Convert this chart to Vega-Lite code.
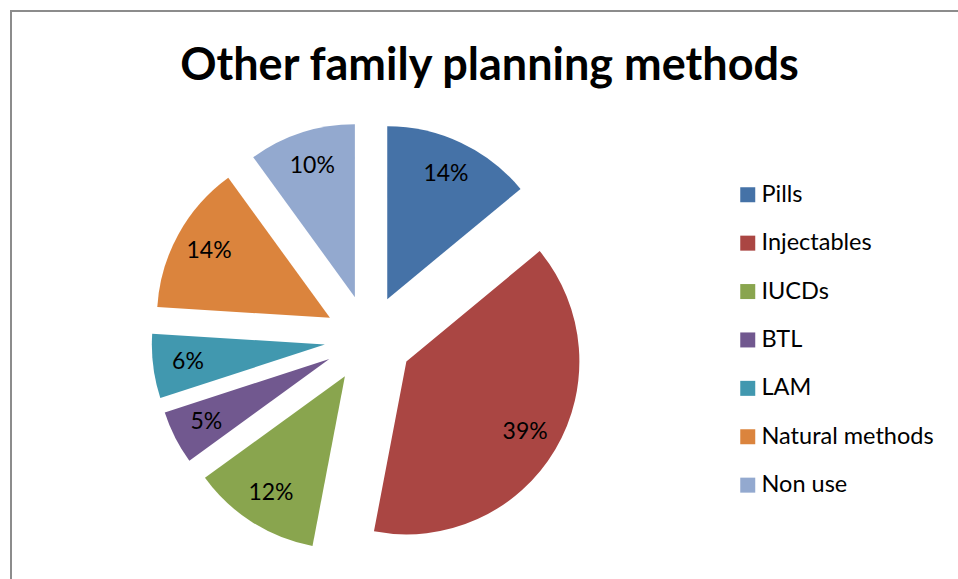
{
  "$schema": "https://vega.github.io/schema/vega-lite/v6.json",
  "padding": {"left": 10, "top": 10, "right": 0, "bottom": 0},
  "autosize": {"type": "pad"},
  "spacing": 0,
  "bounds": "flush",
  "config": {
    "font": "Lato"
  },
  "title": {
    "text": "Other family planning methods",
    "font": "Lato",
    "fontSize": 45,
    "fontWeight": "bold",
    "color": "black",
    "anchor": "middle",
    "dx": 1,
    "dy": 79,
    "offset": 0
  },
  "data": {
    "values": [
      {"method": "Pills", "share": 0.14, "k": 1},
      {"method": "Injectables", "share": 0.39, "k": 2},
      {"method": "IUCDs", "share": 0.12, "k": 3},
      {"method": "BTL", "share": 0.05, "k": 4},
      {"method": "LAM", "share": 0.06, "k": 5},
      {"method": "Natural methods", "share": 0.14, "k": 6},
      {"method": "Non use", "share": 0.10, "k": 7}
    ]
  },
  "hconcat": [
    {
      "width": 715,
      "height": 656,
      "view": {"stroke": "#8c8c8c", "strokeWidth": 2, "strokeDash": [1371, 1371], "strokeDashOffset": 656},
      "layer": [
        {
          "mark": {
            "type": "arc",
            "outerRadius": 173,
            "xOffset": {"expr": "44*sin(PI*(datum.share_start+datum.share_end))"},
            "yOffset": {"expr": "-44*cos(PI*(datum.share_start+datum.share_end))"}
          },
          "encoding": {
            "theta": {"field": "share", "type": "quantitative", "stack": true},
            "order": {"field": "k", "type": "quantitative"},
            "color": {
              "field": "method",
              "type": "nominal",
              "scale": {
                "domain": ["Pills", "Injectables", "IUCDs", "BTL", "LAM", "Natural methods", "Non use"],
                "range": ["#4572A7", "#AA4643", "#89A54E", "#71588F", "#4198AF", "#DB843D", "#93A9CF"]
              },
              "legend": {
                "orient": "none",
                "legendX": 725,
                "legendY": 172,
                "title": null,
                "padding": 0,
                "symbolType": "square",
                "symbolSize": 225,
                "symbolStrokeWidth": 0,
                "labelFont": "Lato",
                "labelFontSize": 23.5,
                "labelColor": "black",
                "labelOffset": 2,
                "rowPadding": 23.4,
                "labelLimit": 300
              }
            }
          }
        },
        {
          "mark": {
            "type": "text",
            "radius": 138,
            "fontSize": 23,
            "font": "Lato",
            "color": "black",
            "xOffset": {"expr": "44*sin(PI*(datum.share_start+datum.share_end))"},
            "yOffset": {"expr": "-44*cos(PI*(datum.share_start+datum.share_end))"}
          },
          "encoding": {
            "theta": {"field": "share", "type": "quantitative", "stack": true},
            "order": {"field": "k", "type": "quantitative"},
            "text": {"field": "share", "type": "quantitative", "format": ".0%"}
          }
        }
      ]
    },
    {
      "width": 240,
      "height": 656,
      "view": {"stroke": "#8c8c8c", "strokeWidth": 2, "strokeDash": [240, 2000]},
      "mark": {"type": "text"},
      "encoding": {"text": {"value": ""}}
    }
  ]
}
